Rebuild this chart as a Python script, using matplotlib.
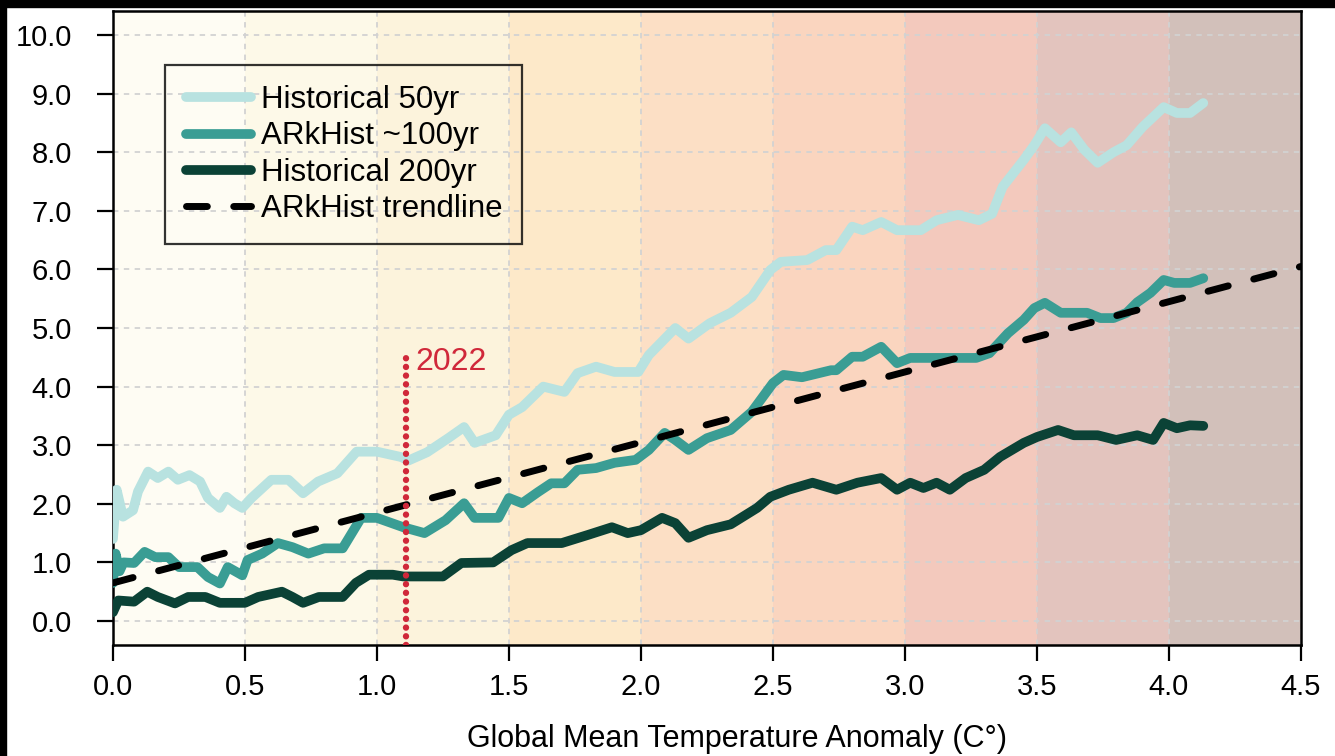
import matplotlib.pyplot as plt
from matplotlib.patches import Rectangle

plt.rcParams['font.family'] = ['Liberation Sans', 'DejaVu Sans']

# warming bands behind the curves
band_edges = [0.0, 0.5, 1.0, 1.5, 2.0, 2.5, 3.0, 3.5, 4.0, 4.5]
band_colors = ['#fefcf3', '#fdf9e8', '#fcf3dc', '#fde9c9', '#fcdfc5',
               '#fad5bf', '#f3c9bd', '#e3c4be', '#d2c0ba']

# Historical 50yr
x50 = [0.0, 0.014, 0.038, 0.076, 0.095, 0.133, 0.17, 0.21, 0.246, 0.29,
       0.33, 0.36, 0.405, 0.43, 0.46, 0.49, 0.525, 0.60, 0.665, 0.72,
       0.777, 0.85, 0.923, 1.0, 1.09, 1.12, 1.19, 1.27, 1.33, 1.37,
       1.45, 1.50, 1.55, 1.63, 1.71, 1.76, 1.83, 1.90, 1.99, 2.03,
       2.13, 2.18, 2.26, 2.34, 2.42, 2.49, 2.53, 2.63, 2.70, 2.74,
       2.80, 2.84, 2.91, 2.97, 3.06, 3.12, 3.20, 3.28, 3.33, 3.37,
       3.45, 3.49, 3.53, 3.59, 3.63, 3.68, 3.73, 3.79, 3.84, 3.90,
       3.98, 4.03, 4.08, 4.13]
y50 = [1.40, 2.24, 1.78, 1.89, 2.21, 2.55, 2.44, 2.55, 2.41, 2.49,
       2.38, 2.10, 1.93, 2.12, 2.01, 1.93, 2.10, 2.41, 2.41, 2.18,
       2.38, 2.52, 2.89, 2.89, 2.80, 2.74, 2.88, 3.12, 3.31, 3.04,
       3.17, 3.52, 3.65, 4.00, 3.91, 4.23, 4.34, 4.25, 4.25, 4.54,
       5.00, 4.82, 5.08, 5.26, 5.53, 5.99, 6.13, 6.16, 6.33, 6.33,
       6.73, 6.67, 6.81, 6.67, 6.67, 6.84, 6.93, 6.84, 6.95, 7.41,
       7.87, 8.12, 8.41, 8.17, 8.34, 8.04, 7.82, 8.00, 8.12, 8.43,
       8.77, 8.67, 8.67, 8.84]

# ARkHist ~100yr
x100 = [0.0, 0.01, 0.025, 0.04, 0.08, 0.12, 0.16, 0.21, 0.25, 0.32,
        0.36, 0.405, 0.435, 0.49, 0.51, 0.565, 0.625, 0.68, 0.74, 0.80,
        0.87, 0.905, 0.94, 1.0, 1.10, 1.18, 1.26, 1.33, 1.37, 1.46,
        1.50, 1.55, 1.61, 1.66, 1.71, 1.76, 1.83, 1.90, 1.98, 2.03,
        2.09, 2.13, 2.18, 2.25, 2.34, 2.42, 2.50, 2.54, 2.61, 2.72,
        2.74, 2.80, 2.84, 2.91, 2.97, 3.02, 3.27, 3.32, 3.39, 3.45,
        3.49, 3.53, 3.59, 3.69, 3.74, 3.79, 3.84, 3.88, 3.93, 3.98,
        4.02, 4.08, 4.13]
y100 = [0.65, 1.15, 0.85, 1.00, 0.99, 1.18, 1.09, 1.09, 0.92, 0.92,
        0.75, 0.64, 0.92, 0.78, 1.04, 1.15, 1.33, 1.26, 1.15, 1.24,
        1.24, 1.50, 1.76, 1.76, 1.60, 1.50, 1.72, 2.01, 1.76, 1.76,
        2.10, 2.01, 2.20, 2.35, 2.35, 2.58, 2.61, 2.70, 2.75, 2.92,
        3.21, 3.09, 2.92, 3.12, 3.26, 3.57, 4.06, 4.20, 4.16, 4.28,
        4.28, 4.51, 4.51, 4.68, 4.40, 4.49, 4.49, 4.57, 4.91, 5.14,
        5.34, 5.43, 5.26, 5.26, 5.17, 5.17, 5.26, 5.44, 5.60, 5.82,
        5.77, 5.77, 5.85]

# Historical 200yr
x200 = [0.0, 0.02, 0.08, 0.13, 0.17, 0.235, 0.285, 0.35, 0.405, 0.50,
        0.55, 0.64, 0.68, 0.72, 0.78, 0.87, 0.92, 0.97, 1.06, 1.10,
        1.25, 1.32, 1.44, 1.51, 1.57, 1.70, 1.80, 1.89, 1.95, 2.0,
        2.08, 2.13, 2.18, 2.25, 2.34, 2.44, 2.49, 2.56, 2.65, 2.74,
        2.82, 2.91, 2.97, 3.02, 3.07, 3.12, 3.17, 3.23, 3.30, 3.36,
        3.45, 3.50, 3.58, 3.64, 3.73, 3.80, 3.88, 3.94, 3.98, 4.03,
        4.08, 4.13]
y200 = [0.15, 0.35, 0.33, 0.50, 0.41, 0.30, 0.41, 0.41, 0.31, 0.31,
        0.41, 0.50, 0.41, 0.31, 0.41, 0.41, 0.65, 0.79, 0.79, 0.76,
        0.76, 0.99, 1.00, 1.21, 1.33, 1.33, 1.47, 1.60, 1.50, 1.55,
        1.76, 1.67, 1.42, 1.55, 1.65, 1.93, 2.12, 2.24, 2.36, 2.24,
        2.36, 2.44, 2.24, 2.36, 2.27, 2.36, 2.24, 2.44, 2.58, 2.80,
        3.04, 3.14, 3.26, 3.17, 3.17, 3.09, 3.17, 3.09, 3.38, 3.29,
        3.34, 3.33]

# ARkHist trendline end points
trend_x = [0.0, 4.5]
trend_y = [0.65, 6.05]

# 2022 marker
marker_x = 1.11
marker_top = 4.55
marker_label = '2022'

x_ticks = [0.0, 0.5, 1.0, 1.5, 2.0, 2.5, 3.0, 3.5, 4.0, 4.5]
y_ticks = [0, 1, 2, 3, 4, 5, 6, 7, 8, 9, 10]

red = '#d0283a'

fig = plt.figure(figsize=(13.35, 7.56), dpi=100)
ax = fig.add_axes([0.0846, 0.1468, 0.8899, 0.8386])

# background bands
for i, c in enumerate(band_colors):
    ax.axvspan(band_edges[i], band_edges[i + 1], color=c, lw=0, zorder=0)

ax.set_axisbelow(True)
ax.grid(True, linestyle=(0, (3, 3)), color='#d2d2d2', linewidth=1.3)

line_kw = dict(lw=7, solid_capstyle='round', solid_joinstyle='round',
               zorder=3)
ax.plot(x50, y50, color='#b8e2e0', label='Historical 50yr', **line_kw)
ax.plot(x100, y100, color='#3a9d94', label='ARkHist ~100yr', **line_kw)
ax.plot(x200, y200, color='#0b4236', label='Historical 200yr', **line_kw)
ax.plot(trend_x, trend_y, color='black', lw=5, linestyle=(0, (3.0, 3.8)),
        dash_capstyle='round', label='ARkHist trendline', zorder=4)

# 2022 marker line and label
ax.plot([marker_x, marker_x], [-0.41, marker_top], color=red, lw=4.6,
        linestyle=(0, (0.01, 1.35)), dash_capstyle='round', zorder=5)
ax.text(marker_x + 0.035, 4.42, marker_label, color=red, fontsize=23,
        va='center', ha='left', zorder=6)

ax.set_xlim(0, 4.5)
ax.set_ylim(-0.41, 10.41)
ax.set_xticks(x_ticks)
ax.set_xticklabels(['%.1f' % v for v in x_ticks])
ax.set_yticks(y_ticks)
ax.set_yticklabels(['%.1f' % v for v in y_ticks])
ax.tick_params(direction='out', length=11.5, width=1.6, labelsize=21,
               color='black')
ax.tick_params(axis='x', pad=9)
ax.tick_params(axis='y', pad=18)
for s in ax.spines.values():
    s.set_linewidth(1.8)
    s.set_color('black')

ax.set_xlabel('Global Mean Temperature Anomaly (C°)', fontsize=22,
              labelpad=16, x=0.525)

leg = ax.legend(loc='upper left', bbox_to_anchor=(0.044, 0.915),
                borderaxespad=0, fontsize=22.5, handlelength=2.1,
                handletextpad=0.3, labelspacing=0.2, borderpad=0.65,
                fancybox=False, frameon=True)
leg.get_frame().set_facecolor('none')
leg.get_frame().set_edgecolor('black')
leg.get_frame().set_linewidth(1.6)

# thin black strips at the top and left edge of the picture
fig.patches.append(Rectangle((0, 1 - 7 / 756), 1, 7 / 756,
                             transform=fig.transFigure, color='black',
                             zorder=10))
fig.patches.append(Rectangle((0, 0), 6 / 1335, 1,
                             transform=fig.transFigure, color='black',
                             zorder=10))

fig.savefig('out.png', dpi=100)
